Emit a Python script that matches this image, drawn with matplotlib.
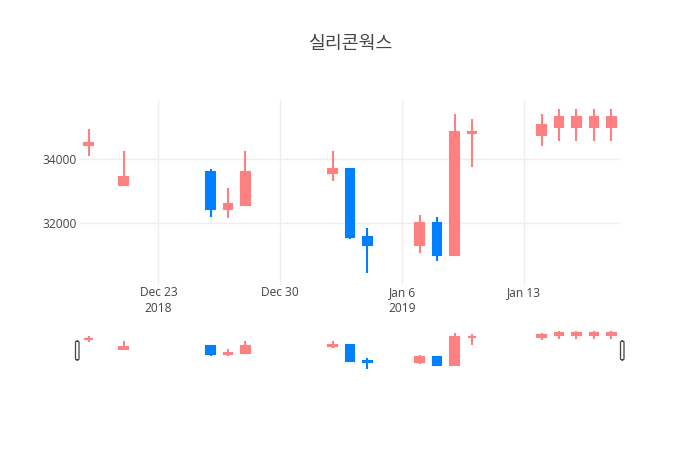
import matplotlib
matplotlib.use("Agg")
import matplotlib.pyplot as plt
import matplotlib.dates as mdates
from matplotlib.patches import FancyBboxPatch
import pandas as pd

plt.rcParams['font.family'] = ['Open Sans', 'Noto Sans CJK KR', 'DejaVu Sans']

title = '실리콘웍스'
dates = ['2018-12-19', '2018-12-21', '2018-12-26', '2018-12-27', '2018-12-28',
         '2019-01-02', '2019-01-03', '2019-01-04', '2019-01-07', '2019-01-08',
         '2019-01-09', '2019-01-10', '2019-01-14', '2019-01-15', '2019-01-16',
         '2019-01-17', '2019-01-18']
opens = [34450, 33200, 33600, 32450, 32550, 33550, 33700, 31550, 31300, 32000,
         31000, 34800, 34750, 35000, 35000, 35000, 35000]
highs = [34950, 34250, 33700, 33100, 34250, 34250, 33700, 31850, 32250, 32200,
         35400, 35250, 35400, 35550, 35550, 35550, 35550]
lows = [34100, 33150, 32200, 32150, 32550, 33300, 31500, 30450, 31050, 30800,
        31000, 33750, 34400, 34550, 34550, 34550, 34550]
closes = [34500, 33450, 32450, 32600, 33600, 33700, 31550, 31300, 32000, 31000,
          34850, 34850, 35050, 35300, 35300, 35300, 35300]

tick_dates = ['2018-12-23', '2018-12-30', '2019-01-06', '2019-01-13']
tick_labels = ['Dec 23\n2018', 'Dec 30', 'Jan 6\n2019', 'Jan 13']
y_ticks = [32000, 34000]

UP = '#ff8080'
DOWN = '#0080ff'
TXT = '#444444'

df = pd.DataFrame({'open': opens, 'high': highs, 'low': lows, 'close': closes},
                  index=pd.to_datetime(dates))
x = mdates.date2num(df.index.to_pydatetime())
colors = [UP if c > o else DOWN for o, c in zip(df['open'], df['close'])]

xmin = mdates.date2num(pd.Timestamp('2018-12-18 12:00'))
xmax = mdates.date2num(pd.Timestamp('2019-01-18 12:00'))

fig = plt.figure(figsize=(7, 4.5), dpi=100)
ax = fig.add_axes([80 / 700, 1 - 285 / 450, 540 / 700, 185 / 450])
sl = fig.add_axes([80 / 700, 1 - 370 / 450, 540 / 700, 40 / 450])


def candles(a, lw):
   a.vlines(x, df['low'], df['high'], colors=colors, linewidth=lw, zorder=2)
   bottoms = df[['open', 'close']].min(axis=1)
   heights = (df['close'] - df['open']).abs()
   a.bar(x, heights, bottom=bottoms, width=0.5, color=colors,
         edgecolor=colors, linewidth=lw, zorder=3)


candles(ax, 1.5)
candles(sl, 1.5)

ax.set_xlim(xmin, xmax)
ax.set_ylim(30062, 35845)
ax.set_xticks(mdates.date2num(pd.to_datetime(tick_dates).to_pydatetime()))
ax.set_xticklabels(tick_labels, linespacing=1.25)
ax.set_yticks(y_ticks)
ax.set_yticklabels([str(v) for v in y_ticks])
ax.grid(True, color='#eeeeee', linewidth=1)
ax.set_axisbelow(True)
ax.tick_params(length=0, labelsize=8.64, colors=TXT)
ax.tick_params(axis='x', pad=1)
ax.tick_params(axis='y', pad=2)
for s in ax.spines.values():
   s.set_visible(False)

sl.set_xlim(xmin, xmax)
sl.set_ylim(30250, 35750)
sl.set_xticks([])
sl.set_yticks([])
for s in sl.spines.values():
   s.set_visible(False)

# range slider grab handles
for hx in [75.5 / 700, 620.5 / 700]:
   fig.patches.append(FancyBboxPatch((hx, 1 - 360 / 450), 3.5 / 700, 19 / 450,
                                     boxstyle='round,pad=0,rounding_size=0.003',
                                     transform=fig.transFigure, facecolor='white',
                                     edgecolor='#444444', linewidth=0.9))

fig.text(0.5, 1 - 44 / 450, title, ha='center', va='center', fontsize=13.2, color=TXT)

fig.savefig('out.png', dpi=100)
